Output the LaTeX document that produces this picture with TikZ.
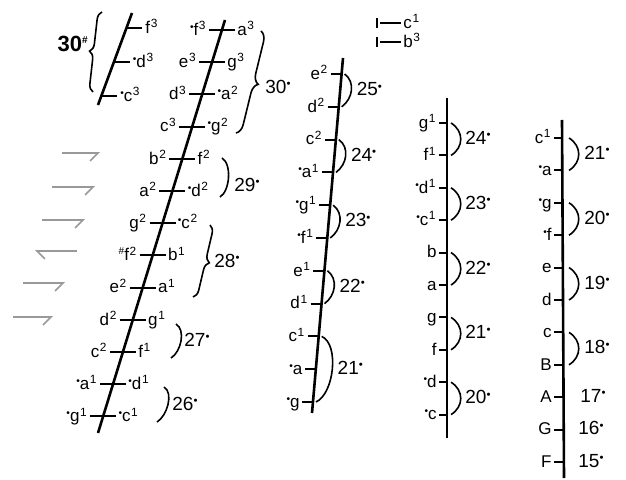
\documentclass[tikz,border=0pt]{standalone}
\usepackage{fontspec}
\setmainfont{Liberation Sans}
\usetikzlibrary{arrows.meta,positioning,calc,decorations.pathreplacing}
\newcommand{\oc}[1]{\textsuperscript{\kern.05em#1}}
\newcommand{\shp}{\raisebox{.55ex}{\scalebox{.6}{\textbullet}}}
\newcommand{\shq}{\raisebox{.7ex}{\fontsize{5}{5}\selectfont\#}}

\begin{document}
\begin{tikzpicture}[x=0.5pt,y=-0.5pt,
    every node/.style={font=\fontsize{8.5}{9}\selectfont,inner sep=1pt},
    stave/.style={line width=1.3pt},
    tick/.style={line width=1pt},
    arc/.style={line width=0.8pt},
    num/.style={font=\fontsize{9.5}{10}\selectfont,anchor=mid west,inner sep=0pt},
    harp/.style={gray!80,line width=0.8pt}]
  \useasboundingbox (0,0) rectangle (626,480);

  % small stave, top left
  \coordinate (sbot) at (98,105);
  \coordinate (stop) at (132,13);
  \draw[stave] (sbot) -- (stop);
  \foreach \l/\yy [count=\i from 0] in {f\oc{3}/28, \shp d\oc{3}/62, \shp c\oc{3}/96}{
    \pgfmathsetmacro\xx{98+(105-\yy)*0.3696}
    \coordinate (s\i) at (\xx,\yy);
    \draw[tick] (s\i) -- ++(16,0) node[anchor=mid west] (sl\i) {\l};
  }
  \draw[arc,decorate,decoration={brace,amplitude=4pt}] (93,92) -- (102,12);
  \node[num,anchor=mid east,font=\fontsize{11}{12}\selectfont\bfseries] (n30s) at (88,46) {30\shq};

  % main stave
  \coordinate (mbot) at (98,433);
  \coordinate (mtop) at (225,20);
  \draw[stave] (mbot) -- (mtop);
  \foreach \l/\r [count=\i from 0] in {\shp f\oc{3}/a\oc{3}, e\oc{3}/g\oc{3}, d\oc{3}/\shp a\oc{2},
      c\oc{3}/\shp g\oc{2}, b\oc{2}/f\oc{2}, a\oc{2}/\shp d\oc{2}, g\oc{2}/\shp c\oc{2},
      \shq f\oc{2}/b\oc{1}, e\oc{2}/a\oc{1}, d\oc{2}/g\oc{1}, c\oc{2}/f\oc{1},
      \shp a\oc{1}/\shp d\oc{1}, \shp g\oc{1}/\shp c\oc{1}}{
    \pgfmathsetmacro\yy{30+32.2*\i}
    \pgfmathsetmacro\xx{98+(433-\yy)*0.3075}
    \coordinate (m\i) at (\xx,\yy);
    \draw[tick] ([xshift=-6.5pt]m\i) -- ([xshift=6.5pt]m\i);
    \node[anchor=mid east] (ml\i) at ([xshift=-6.5pt]m\i) {\l};
    \node[anchor=mid west] (mr\i) at ([xshift=6.5pt]m\i) {\r};
  }
  \draw[arc,decorate,decoration={brace,amplitude=5pt}] (261,31) -- (236,133);
  \node[num] (n30m) at (265,88) {30\shp};
  \draw[arc] (222,158) .. controls +(10,6) and +(10,-6) .. (220,197);
  \node[num] (n29) at (234,186) {29\shp};
  \draw[arc,decorate,decoration={brace,amplitude=4pt}] (210,225) -- (193,297);
  \node[num] (n28) at (214,262) {28\shp};
  \draw[arc] (176,324) .. controls +(10,6) and +(10,-6) .. (171,358);
  \node[num] (n27) at (184,341) {27\shp};
  \draw[arc] (164,387) .. controls +(10,6) and +(10,-6) .. (157,422);
  \node[num] (n26) at (172,405) {26\shp};

  % second stave
  \coordinate (bbot) at (312,413);
  \coordinate (btop) at (343,58);
  \draw[stave] (bbot) -- (btop);
  \foreach \l [count=\i from 0] in {e\oc{2}, d\oc{2}, c\oc{2}, \shp a\oc{1}, \shp g\oc{1},
      \shp f\oc{1}, e\oc{1}, d\oc{1}, c\oc{1}, \shp a, \shp g}{
    \pgfmathsetmacro\yy{74+32.8*\i}
    \pgfmathsetmacro\xx{312+(413-\yy)*0.0873}
    \coordinate (b\i) at (\xx,\yy);
    \draw[tick] ([xshift=-5.5pt]b\i) -- (b\i);
    \node[anchor=mid east] (bl\i) at ([xshift=-5.5pt]b\i) {\l};
  }
  \foreach \p/\q/\n/\d in {0/1/25/11, 2/3/24/11, 4/5/23/11, 6/7/22/11, 8/10/21/18}{
    \draw[arc] ([xshift=1.5pt]b\p) .. controls +(\d,8) and +(\d,-8) .. ([xshift=1.5pt]b\q);
    \node[num] (bn\n) at ($(b\p)!.5!(b\q)+(\d*0.75+8,0)$) {\n\shp};
  }

  % third stave
  \coordinate (cbot) at (447,438);
  \coordinate (ctop) at (447,98);
  \draw[stave] (cbot) -- (ctop);
  \foreach \l [count=\i from 0] in {g\oc{1}, f\oc{1}, \shp d\oc{1}, \shp c\oc{1}, b, a, g, f,
      \shp d, \shp c}{
    \pgfmathsetmacro\yy{123+32.4*\i}
    \coordinate (c\i) at (447,\yy);
    \draw[tick] ([xshift=-4pt]c\i) -- (c\i);
    \node[anchor=mid east] (cl\i) at ([xshift=-4pt]c\i) {\l};
  }
  \foreach \p/\q/\n in {0/1/24, 2/3/23, 4/5/22, 6/7/21, 8/9/20}{
    \draw[arc] ([xshift=2pt]c\p) .. controls +(13,8) and +(13,-8) .. ([xshift=2pt]c\q);
    \node[num] (cn\n) at ($(c\p)!.5!(c\q)+(18,0)$) {\n\shp};
  }

  % fourth stave
  \coordinate (dbot) at (564,478);
  \coordinate (dtop) at (562,120);
  \draw[stave] (dbot) -- (dtop);
  \foreach \l [count=\i from 0] in {c\oc{1}, \shp a, \shp g, \shp f, e, d, c, B, A, G, F}{
    \pgfmathsetmacro\yy{138+32.4*\i}
    \coordinate (d\i) at (563,\yy);
    \draw[tick] ([xshift=-4.5pt]d\i) -- (d\i);
    \node[anchor=mid east] (dl\i) at ([xshift=-4.5pt]d\i) {\l};
  }
  \foreach \p/\q/\n in {0/1/21, 2/3/20, 4/5/19, 6/7/18}{
    \draw[arc] ([xshift=3pt]d\p) .. controls +(13,8) and +(13,-8) .. ([xshift=3pt]d\q);
    \node[num] (dn\n) at ($(d\p)!.5!(d\q)+(21,0)$) {\n\shp};
  }
  \node[num] (dn17) at ($(d8)+(17,0)$) {17\shp};
  \node[num] (dn16) at ($(d9)+(15,0)$) {16\shp};
  \node[num] (dn15) at ($(d10)+(15,0)$) {15\shp};

  % legend
  \node[anchor=mid west] (lg1) at (401,23) {c\oc{1}};
  \node[anchor=mid west] (lg2) at (401,42) {b\oc{3}};
  \draw[line width=1.2pt] (377,18) -- (377,28);
  \draw[line width=1.2pt] (377,37) -- (377,47);
  \draw[tick] (380,23) -- (lg1.mid west);
  \draw[tick] (380,42) -- (lg2.mid west);

  % harpoons
  \foreach \xa/\xb/\yy [count=\i] in {62/100/153, 52/95/187, 42/85/220, 23/65/283, 13/53/317}{
    \coordinate (hs\i) at (\xa,\yy);
    \coordinate (he\i) at (\xb,\yy);
    \draw[harp,-{Straight Barb[right,length=4pt]}] (hs\i) -- (he\i);
  }
  \coordinate (hs6) at (77,251);
  \coordinate (he6) at (35,251);
  \draw[harp,-{Straight Barb[left,length=4pt]}] (hs6) -- (he6);
\end{tikzpicture}
\end{document}
